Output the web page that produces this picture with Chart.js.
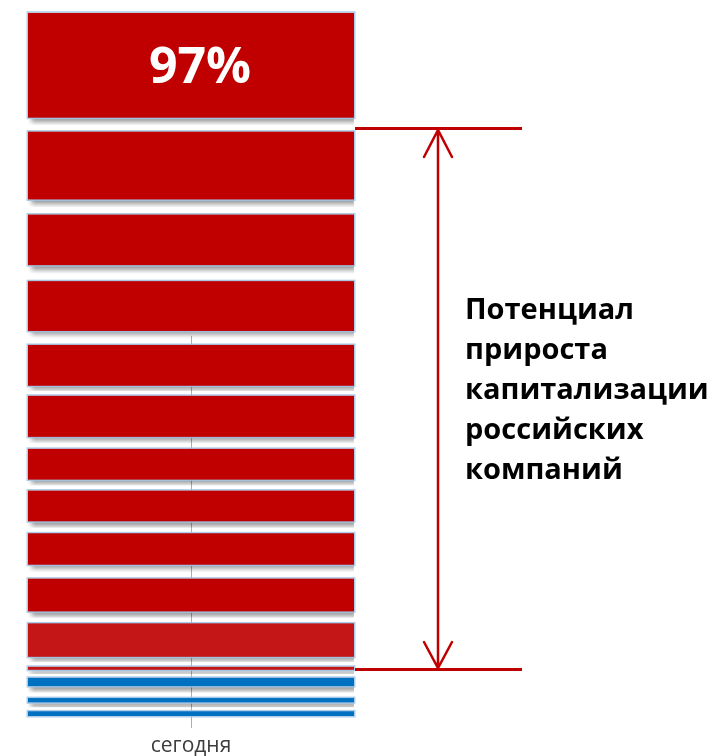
<!DOCTYPE html>
<html>
<head>
<meta charset="utf-8">
<script src="https://cdn.jsdelivr.net/npm/chart.js@4.4.0/dist/chart.umd.min.js"></script>
<style>
  html, body { margin: 0; padding: 0; background: #ffffff; }
  #wrap { width: 715px; height: 756px; }
</style>
</head>
<body>
<div id="wrap"><canvas id="c" width="715" height="756"></canvas></div>
<script>
// ---------- DATA (segments listed top to bottom) ----------
const categories = ['сегодня'];
const segmentValues = [15.9, 11.7, 9.4, 9.2, 7.5, 7.4, 6.0, 6.0, 6.3, 6.5, 6.3, 1.7, 2.6, 2.1, 1.3];
const topLabel = '97%';
const annotationLines = ['Потенциал', 'прироста', 'капитализации', 'российских', 'компаний'];
const annotationRange = [83.5, 6.7];   // value where the bracket starts / ends
const yMin = 0;
const yMax = 100;

// ---------- STYLES ----------
const RED = '#C00000';
const RED_LIGHT = '#C41616';
const BLUE = '#0070C0';
const segmentColors = [RED, RED, RED, RED, RED, RED, RED, RED, RED, RED, RED_LIGHT, RED_LIGHT, BLUE, BLUE, BLUE];
const gapBelowPx = [14, 15, 16, 14, 10, 12, 11, 12, 14, 12, 10, 8, 12, 9]; // white gap between segments
const axisLineTopValue = 54;
const GLOW = 'rgba(160,196,230,0.85)';
const AXIS_COLOR = 'rgba(120,150,185,0.75)';

// borders (transparent) create the gaps; top/bottom halves of each gap
function borderFor(i) {
  const top = i === 0 ? 0 : gapBelowPx[i - 1] / 2;
  const bottom = i === segmentValues.length - 1 ? 0 : gapBelowPx[i] / 2;
  return { top, bottom, left: 0, right: 0 };
}

// Chart.js stacks dataset 0 at the bottom, so build bottom-up
const datasets = [];
for (let i = segmentValues.length - 1; i >= 0; i--) {
  datasets.push({
    label: 'seg' + i,
    segIndex: i,
    data: [segmentValues[i]],
    backgroundColor: segmentColors[i],
    borderColor: 'rgba(0,0,0,0)',
    borderWidth: borderFor(i),
    borderSkipped: false,
    barPercentage: 1,
    categoryPercentage: 1,
    clip: false
  });
}

function innerRect(chart, dsIndex) {
  const meta = chart.getDatasetMeta(dsIndex);
  const el = meta.data[0];
  const ds = chart.data.datasets[dsIndex];
  const b = ds.borderWidth;
  const top = Math.min(el.y, el.base) + b.top;
  const bottom = Math.max(el.y, el.base) - b.bottom;
  return { left: el.x - el.width / 2, right: el.x + el.width / 2, top, bottom, cx: el.x };
}

const decor = {
  id: 'decor',
  beforeDatasetsDraw(chart) {
    const ctx = chart.ctx;
    const xs = chart.scales.x, ys = chart.scales.y;
    const cx = xs.getPixelForTick(0);
    ctx.save();
    ctx.strokeStyle = AXIS_COLOR;
    ctx.lineWidth = 1;
    ctx.beginPath();
    ctx.moveTo(Math.round(cx) + 0.5, ys.getPixelForValue(axisLineTopValue));
    ctx.lineTo(Math.round(cx) + 0.5, chart.chartArea.bottom);
    ctx.stroke();
    ctx.restore();
    // shadow for the bars
    ctx.save();
    ctx.shadowColor = 'rgba(0,0,0,0.42)';
    ctx.shadowBlur = 5;
    ctx.shadowOffsetX = 3;
    ctx.shadowOffsetY = 4;
  },
  afterDatasetsDraw(chart) {
    const ctx = chart.ctx;
    ctx.restore(); // end shadow
    ctx.save();
    // glow outlines
    ctx.strokeStyle = GLOW;
    ctx.lineWidth = 1.5;
    chart.data.datasets.forEach((ds, di) => {
      const r = innerRect(chart, di);
      ctx.strokeRect(r.left - 0.75, r.top - 0.75, r.right - r.left + 1.5, r.bottom - r.top + 1.5);
    });
    // top label in the top segment
    const topIdx = chart.data.datasets.findIndex(d => d.segIndex === 0);
    const tr = innerRect(chart, topIdx);
    ctx.fillStyle = '#ffffff';
    ctx.font = 'bold 50px "Open Sans"';
    ctx.textAlign = 'center';
    ctx.textBaseline = 'alphabetic';
    ctx.fillText(topLabel, tr.cx + 9, (tr.top + tr.bottom) / 2 + 18);

    // bracket annotation
    const ys = chart.scales.y;
    const yTop = Math.round(ys.getPixelForValue(annotationRange[0]));
    const yBot = Math.round(ys.getPixelForValue(annotationRange[1]));
    const x0 = chart.chartArea.right + 1;
    const x1 = x0 + 167;
    const ax = x0 + 83;
    ctx.strokeStyle = RED;
    ctx.lineWidth = 3;
    ctx.beginPath();
    ctx.moveTo(x0, yTop + 0.5); ctx.lineTo(x1, yTop + 0.5);
    ctx.moveTo(x0, yBot + 0.5); ctx.lineTo(x1, yBot + 0.5);
    ctx.stroke();
    ctx.lineWidth = 2.5;
    ctx.lineCap = 'round';
    ctx.beginPath();
    ctx.moveTo(ax, yTop + 2); ctx.lineTo(ax, yBot - 1);
    ctx.moveTo(ax - 14, yTop + 29); ctx.lineTo(ax, yTop + 2); ctx.lineTo(ax + 14, yTop + 29);
    ctx.moveTo(ax - 14, yBot - 27); ctx.lineTo(ax, yBot - 1); ctx.lineTo(ax + 14, yBot - 27);
    ctx.stroke();

    ctx.fillStyle = '#000000';
    ctx.font = 'bold 29px "Open Sans"';
    ctx.textAlign = 'left';
    ctx.textBaseline = 'alphabetic';
    const mid = (yTop + yBot) / 2;
    const n = annotationLines.length;
    annotationLines.forEach((t, i) => {
      ctx.fillText(t, ax + 27, mid + (i - (n - 1) / 2) * 40);
    });
    ctx.restore();
  }
};

new Chart(document.getElementById('c'), {
  type: 'bar',
  data: { labels: categories, datasets },
  options: {
    responsive: false,
    animation: false,
    events: [],
    layout: { padding: { top: 12, left: 28, right: 361, bottom: 0 } },
    plugins: { legend: { display: false }, tooltip: { enabled: false } },
    scales: {
      x: {
        stacked: true,
        afterFit(scale) { scale.height = 40; },
        grid: { display: true, drawOnChartArea: false, drawTicks: true, tickLength: 12, offset: false, color: AXIS_COLOR },
        border: { display: false },
        ticks: { color: '#3c3c3c', font: { family: '"Open Sans"', size: 21, lineHeight: 1.2 }, padding: 5 }
      },
      y: {
        stacked: true,
        display: false,
        min: yMin,
        max: yMax
      }
    }
  },
  plugins: [decor]
});
</script>
</body>
</html>
